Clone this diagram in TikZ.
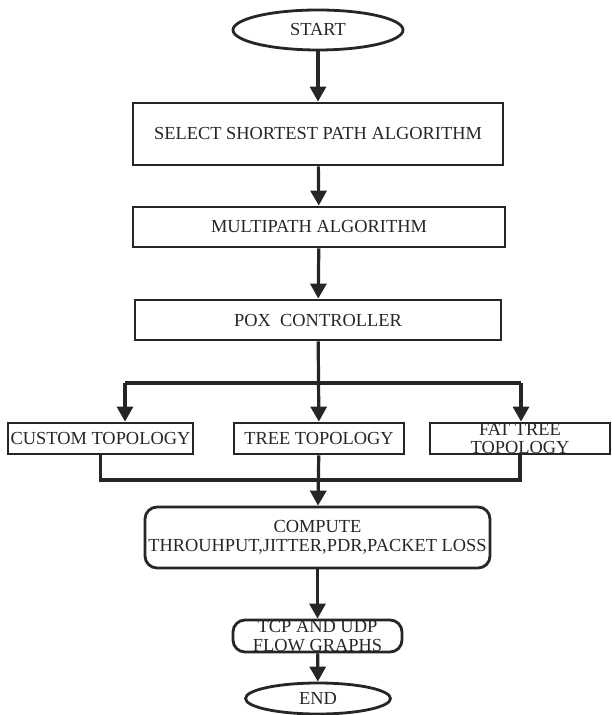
\documentclass[tikz,border=0pt]{standalone}
\usepackage{fontspec}
\setmainfont{Liberation Serif}
\usepackage{tikz}
\usetikzlibrary{shapes.geometric,arrows.meta}
\tikzset{
    flowline/.style={line width=1.6pt, black!85},
    flowarrow/.style={flowline, -{Triangle[width=8pt,length=7.5pt]}},
    procbox/.style={draw, line width=1.4pt, black!85, text=black!85, rectangle,
        inner sep=0pt, align=center, font=\fontsize{9.2}{9.2}\selectfont},
    roundbox/.style={procbox, rounded corners=6pt},
    termbox/.style={draw, line width=1.4pt, black!85, text=black!85, ellipse,
        inner sep=0pt, font=\fontsize{9.2}{9.2}\selectfont},
}

\begin{document}
\begin{tikzpicture}[x=0.5pt, y=-0.5pt]
\useasboundingbox (0,0) rectangle (611,715);
% terminals and process boxes
\node[termbox, minimum width=85pt, minimum height=20pt] (start) at (318,30) {START};
\node[procbox, minimum width=185pt, minimum height=31pt] (select) at (318,134) {SELECT SHORTEST PATH ALGORITHM};
\node[procbox, minimum width=186pt, minimum height=20pt] (multi) at (319,227) {MULTIPATH ALGORITHM};
\node[procbox, minimum width=183pt, minimum height=20pt] (pox) at (318,320) {POX~~CONTROLLER};
\node[procbox, minimum width=92.5pt, minimum height=15.5pt] (custom) at (100.5,438.5) {CUSTOM TOPOLOGY};
\node[procbox, minimum width=85pt, minimum height=15.5pt] (tree) at (319,438.5) {TREE TOPOLOGY};
\node[procbox, minimum width=90pt, minimum height=15.5pt] (fat) at (520,438.5) {FAT TREE\\TOPOLOGY};
\node[roundbox, minimum width=172.5pt, minimum height=30.5pt] (compute) at (317.5,537.5) {COMPUTE\\THROUHPUT,JITTER,PDR,PACKET LOSS};
\node[roundbox, minimum width=84.5pt, minimum height=16pt] (tcp) at (317.5,636) {TCP AND UDP\\FLOW GRAPHS};
\node[termbox, minimum width=72.5pt, minimum height=15.5pt] (end) at (318,698.5) {END};
% branch and merge points
\coordinate (split) at (318,383);
\coordinate (jl) at (125,383);
\coordinate (jr) at (521,383);
\coordinate (merge) at (318,480);
% connectors
\draw[flowarrow] (start) -- (select);
\draw[flowarrow] (select) -- (multi);
\draw[flowarrow] (multi) -- (pox);
\draw[flowarrow] (pox) -- (tree);
\draw[flowline] (jl) -- (jr);
\draw[flowarrow] (jl) -- (jl |- custom.north);
\draw[flowarrow] (jr) -- (jr |- fat.north);
\draw[flowline] (custom.south) |- (merge) -| (fat.south);
\draw[flowarrow] (tree) -- (compute);
\draw[flowarrow] (compute) -- (tcp);
\draw[flowarrow] (tcp) -- (end);
\end{tikzpicture}
\end{document}
